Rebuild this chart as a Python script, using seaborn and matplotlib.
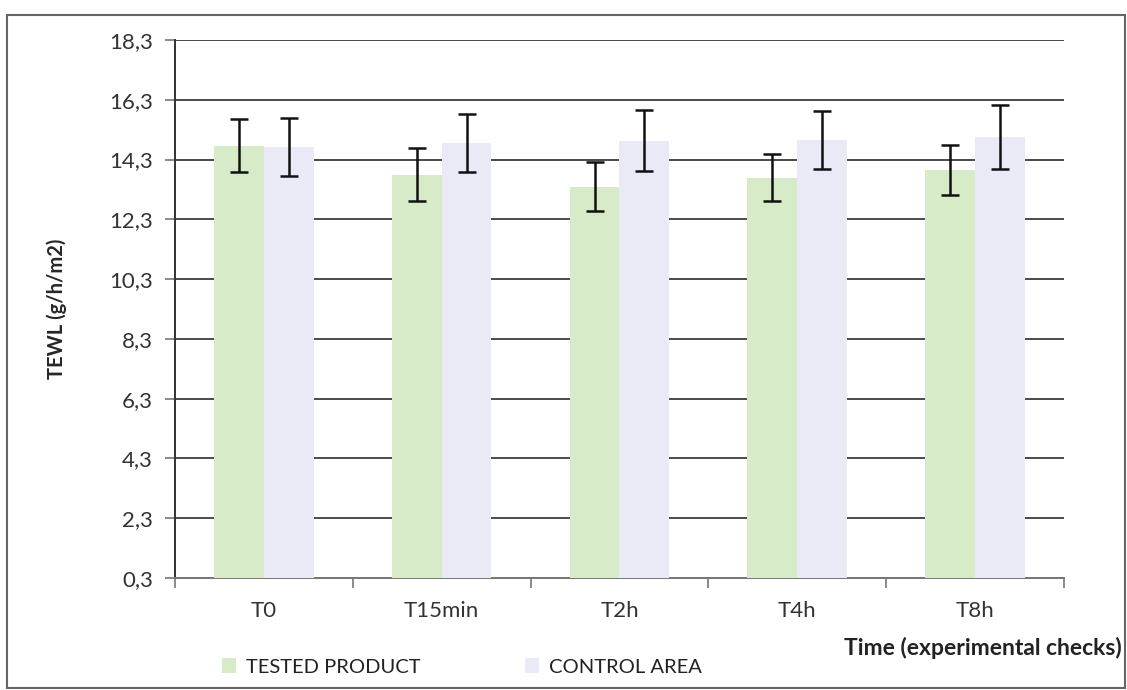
import numpy as np
import pandas as pd
import matplotlib
matplotlib.use("Agg")
import matplotlib.pyplot as plt
import seaborn as sns
from matplotlib.patches import Rectangle
from matplotlib.ticker import FuncFormatter

# valori
times = ["T0", "T15min", "T2h", "T4h", "T8h"]
tested = [14.77, 13.80, 13.39, 13.70, 13.95]
tested_err = [0.90, 0.89, 0.82, 0.80, 0.85]
control = [14.73, 14.85, 14.93, 14.96, 15.05]
control_err = [0.97, 0.96, 1.02, 0.97, 1.06]
groups = ["TESTED PRODUCT", "CONTROL AREA"]
colors = ["#d8ebc8", "#eaeaf6"]
yticks = [0.3, 2.3, 4.3, 6.3, 8.3, 10.3, 12.3, 14.3, 16.3, 18.3]

df = pd.DataFrame({
    "time": times * 2,
    "group": [groups[0]] * len(times) + [groups[1]] * len(times),
    "tewl": tested + control,
    "err": tested_err + control_err,
})

sns.set_style("white")
plt.rcParams["font.family"] = ["Lato", "DejaVu Sans"]
plt.rcParams["font.size"] = 14

fig = plt.figure(figsize=(11.27, 6.9), dpi=100)
ax = fig.add_axes([0.1553, 0.1623, 0.7887, 0.7797])

sns.barplot(data=df, x="time", y="tewl", hue="group", palette=colors,
            width=0.56, errorbar=None, ax=ax, saturation=1, zorder=3,
            legend=False, linewidth=0)

# barre di errore centrate sulle barre
bars = [p for p in ax.patches if p.get_height() > 0]
bars = sorted(bars, key=lambda p: p.get_x())
vals = []
for i in range(len(times)):
    vals.append((tested[i], tested_err[i]))
    vals.append((control[i], control_err[i]))
for p, (v, e) in zip(bars, vals):
    cx = p.get_x() + p.get_width() / 2
    ax.errorbar(cx, v, yerr=e, fmt="none", ecolor="#111111", elinewidth=1.8,
                capsize=6.5, capthick=1.8, zorder=5)

ax.set_ylim(0.3, 18.3)
ax.set_yticks(yticks)
ax.yaxis.set_major_formatter(FuncFormatter(lambda v, p: f"{v:.1f}".replace(".", ",")))
ax.set_xlim(-0.5, len(times) - 0.5)
ax.set_xlabel("")
ax.set_ylabel("TEWL (g/h/m2)", fontweight="bold", fontsize=14.5, labelpad=30)

ax.grid(axis="y", color="#4a4a4a", linewidth=1.4, zorder=0)
ax.set_axisbelow(True)
for s in ["top", "right"]:
    ax.spines[s].set_visible(False)
ax.spines["left"].set_color("#333333")
ax.spines["left"].set_linewidth(1.4)
ax.spines["bottom"].set_color("#777777")
ax.spines["bottom"].set_linewidth(1.4)

ax.tick_params(axis="y", left=True, length=7, width=1.2, color="#777777",
               labelsize=16, pad=9, labelcolor="#333333")
ax.tick_params(axis="x", bottom=False, labelsize=16, pad=13, labelcolor="#333333")
ax.set_xticks(np.arange(len(times) + 1) - 0.5, minor=True)
ax.tick_params(axis="x", which="minor", bottom=True, length=7, width=1.2,
               color="#777777")

fig.text(0.995, 1 - 648 / 690, "Time (experimental checks)", ha="right",
         va="center", fontweight="bold", fontsize=16.5, color="#222222")

handles = [Rectangle((0, 0), 1, 1, facecolor=c, edgecolor="none") for c in colors]
fig.legend(handles, groups, loc="center", bbox_to_anchor=(0.41, 1 - 667 / 690),
           ncol=2, frameon=False, handlelength=0.7, handleheight=0.7,
           handletextpad=0.5, columnspacing=5.2, fontsize=14.5,
           labelcolor="#222222")

# cornice esterna
fig.add_artist(Rectangle((0.006, 0.003), 0.992, 0.975, transform=fig.transFigure,
                         fill=False, edgecolor="#666666", linewidth=1.5))

fig.savefig("out.png", dpi=100)
